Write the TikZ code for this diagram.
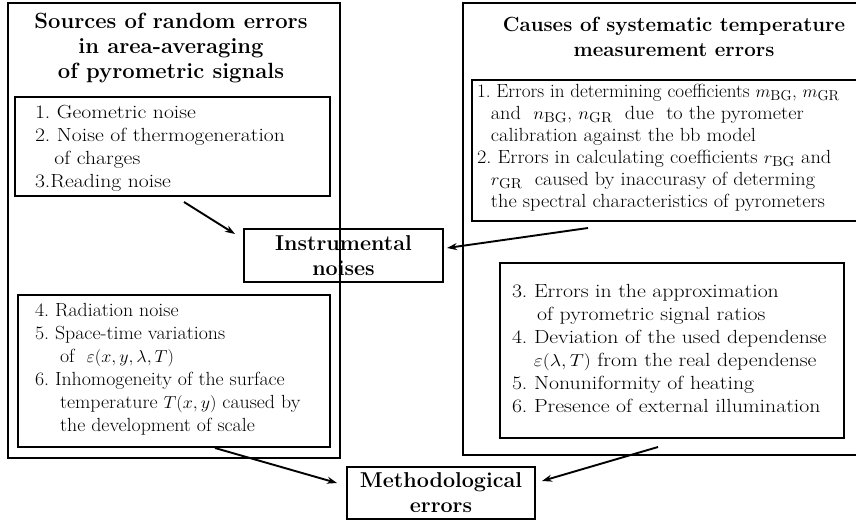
\documentclass[tikz,border=0pt]{standalone}
\usepackage{graphicx}
\usetikzlibrary{arrows.meta,calc}
\newcommand\txtblock[4]{\scalebox{#1}[1]{\parbox[t]{420pt}{\fontsize{#2}{#3}\selectfont #4}}}
\newcommand\ttlblock[2]{\parbox[t]{380pt}{\centering\bfseries\fontsize{#1}{25}\selectfont #2}}
\begin{document}
\begin{tikzpicture}[x=1pt,y=-1pt,
  outerbox/.style={draw,line width=2.9pt,inner sep=0pt,outer sep=0pt},
  innerbox/.style={draw,line width=2.5pt,inner sep=0pt,outer sep=0pt},
  labelbox/.style={draw,line width=1.3pt,inner sep=0pt,outer sep=0pt,align=center,
    font=\bfseries\fontsize{21.5}{25}\selectfont},
  txt/.style={inner sep=0pt,outer sep=0pt,anchor=base west},
  ttl/.style={inner sep=0pt,outer sep=0pt,anchor=base},
  arr/.style={line width=1.9pt,-{Stealth[length=10pt,width=7pt]}}]
\useasboundingbox (0,0) rectangle (856,522);
\fill[white] (0,0) rectangle (856,522);
\clip (0,0) rectangle (856,522);

% outer containers
\node[outerbox,minimum width=332pt,minimum height=455pt] (lo) at (174,230.5) {};
\node[outerbox,minimum width=407pt,minimum height=452pt] (ro) at (666.5,229) {};

% inner boxes
\node[innerbox,minimum width=315pt,minimum height=99pt]  (lt) at (172.5,146.5) {};
\node[innerbox,minimum width=312pt,minimum height=152pt] (lb) at (174,371) {};
\node[innerbox,minimum width=398pt,minimum height=141pt] (rt) at (671,150.5) {};
\node[innerbox,minimum width=344pt,minimum height=175pt] (rb) at (672,350.5) {};

% result boxes
\node[labelbox,minimum width=199pt,minimum height=53pt] (ins) at (343.5,255.5) {Instrumental\\noises};
\node[labelbox,minimum width=188pt,minimum height=52pt] (met) at (441,493) {Methodological\\errors};

% titles
\node[ttl] (lttitle) at (171,28) {\ttlblock{22}{Sources of random errors\\in area-averaging\\of pyrometric signals}};
\node[ttl] (rttitle) at (674,31) {\ttlblock{20.5}{Causes of systematic temperature\\measurement errors}};

% texts
\node[txt] (lttext) at (35,118) {\txtblock{1.14}{19}{23}{1.~Geometric noise\\
2.~Noise of thermogeneration\\
\hspace*{17pt}of charges\\
3.Reading noise}};

\node[txt] (lbtext) at (35,316) {\txtblock{1.045}{19}{23}{4.~Radiation noise\\
5.~Space-time variations\\
\hspace*{24pt}of\ \ $\varepsilon\bigl(x, y, \lambda, T\bigr)$\\
6.~Inhomogeneity of the surface\\
\hspace*{24pt}temperature $T(x, y)$ caused by\\
\hspace*{24pt}the development of scale}};

\node[txt] (rttext) at (477,97) {\txtblock{1.07}{19}{22}{\scalebox{0.94}[1]{1.~Errors in determining coefficients $m_{\mathrm{BG}}$, $m_{\mathrm{GR}}$}\\
\hspace*{13pt}and\ \ $n_{\mathrm{BG}}$, $n_{\mathrm{GR}}$\ \ due\ \ to the pyrometer\\
\hspace*{13pt}calibration against the bb model\\
2.~Errors in calculating coefficients $r_{\mathrm{BG}}$ and\\
\hspace*{13pt}$r_{\mathrm{GR}}$\ \ caused by inaccurasy of determing\\
\hspace*{13pt}the spectral characteristics of pyrometers}};

\node[txt] (rbtext) at (512,297) {\txtblock{1.145}{19}{23}{3.~Errors in the approximation\\
\hspace*{22pt}of pyrometric signal ratios\\
4.~Deviation of the used dependense\\
\hspace*{19pt}$\varepsilon\bigl(\lambda, T\bigr)$ from the real dependense\\
5.~Nonuniformity of heating\\
6.~Presence of external illumination}};

% connectors
\coordinate (a1) at (184,202);
\coordinate (a2) at (588,228);
\coordinate (a3) at (215,448);
\coordinate (a4) at (658,447);
\draw[arr] (a1) -- ($(ins.north west)+(-9,5)$);
\draw[arr] (a2) -- ($(ins.north east)+(4,19)$);
\draw[arr] (a3) -- ($(met.north west)+(-10,16)$);
\draw[arr] (a4) -- ($(met.north east)+(7,14)$);
\end{tikzpicture}
\end{document}
